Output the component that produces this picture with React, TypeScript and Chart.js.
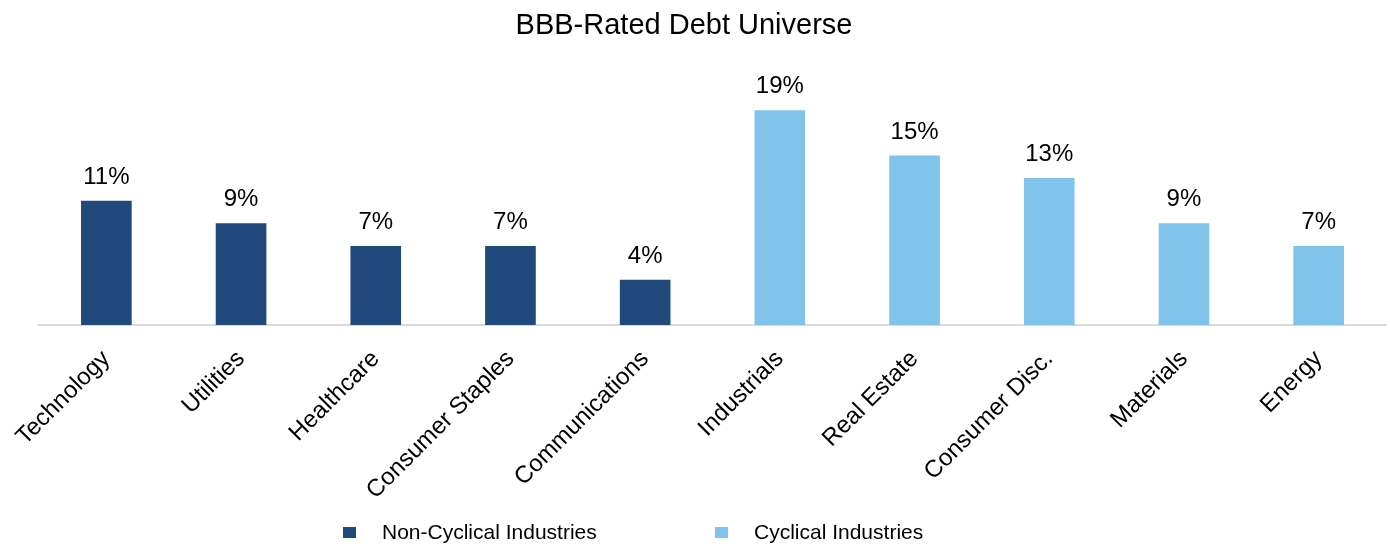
import React, { useEffect, useRef } from "react";
import { Chart, registerables } from "chart.js";

Chart.register(...registerables);

const categories = [
  "Technology",
  "Utilities",
  "Healthcare",
  "Consumer Staples",
  "Communications",
  "Industrials",
  "Real Estate",
  "Consumer Disc.",
  "Materials",
  "Energy",
];

const nonCyclical = [11, 9, 7, 7, 4, null, null, null, null, null];
const cyclical = [null, null, null, null, null, 19, 15, 13, 9, 7];

const seriesNames = ["Non-Cyclical Industries", "Cyclical Industries"];
const seriesColors = ["#204A7B", "#80C4EC"];
const titleText = "BBB-Rated Debt Universe";

const FONT = "'Liberation Sans', Arial, Helvetica, sans-serif";

const valueLabels = {
  id: "valueLabels",
  afterDatasetsDraw(chart: any) {
    const ctx = chart.ctx;
    ctx.save();
    ctx.font = `24px ${FONT}`;
    ctx.fillStyle = "#000000";
    ctx.textAlign = "center";
    ctx.textBaseline = "alphabetic";
    chart.data.datasets.forEach((ds: any, di: number) => {
      const meta = chart.getDatasetMeta(di);
      meta.data.forEach((bar: any, i: number) => {
        const v = ds.data[i];
        if (v === null || v === undefined) return;
        ctx.fillText(`${v}%`, bar.x, bar.y - 17);
      });
    });
    ctx.restore();
  },
};

const titleAndLegend = {
  id: "titleAndLegend",
  afterDraw(chart: any) {
    const ctx = chart.ctx;
    ctx.save();
    ctx.fillStyle = "#000000";
    ctx.font = `29px ${FONT}`;
    ctx.textAlign = "center";
    ctx.textBaseline = "alphabetic";
    ctx.fillText(titleText, 684, 34);

    ctx.font = `21px ${FONT}`;
    ctx.textBaseline = "middle";
    ctx.textAlign = "left";
    const boxXs = [343, 715];
    const y = 532;
    chart.data.datasets.forEach((ds: any, i: number) => {
      ctx.fillStyle = ds.backgroundColor;
      ctx.fillRect(boxXs[i], y - 5, 13, 11);
      ctx.fillStyle = "#000000";
      ctx.fillText(ds.label, boxXs[i] + 39, y + 1.5);
    });
    ctx.restore();
  },
};

export default function App() {
  const ref = useRef<HTMLCanvasElement | null>(null);

  useEffect(() => {
    if (!ref.current) return;
    const chart = new Chart(ref.current, {
      type: "bar",
      data: {
        labels: categories,
        datasets: [
          {
            label: seriesNames[0],
            data: nonCyclical,
            backgroundColor: seriesColors[0],
            grouped: false,
            categoryPercentage: 1,
            barPercentage: 0.376,
          } as any,
          {
            label: seriesNames[1],
            data: cyclical,
            backgroundColor: seriesColors[1],
            grouped: false,
            categoryPercentage: 1,
            barPercentage: 0.376,
          } as any,
        ],
      },
      options: {
        responsive: false,
        animation: false,
        events: [],
        layout: { padding: { left: 39, right: 4, top: 42.5, bottom: 0 } },
        plugins: {
          legend: { display: false },
          tooltip: { enabled: false },
          title: { display: false },
        },
        scales: {
          x: {
            offset: true,
            grid: { display: false, drawTicks: false },
            border: { display: true, color: "#D9D9D9", width: 2 },
            ticks: {
              color: "#000000",
              font: { family: FONT, size: 24 },
              minRotation: 45,
              maxRotation: 45,
              autoSkip: false,
              padding: 20,
            },
            afterFit: (scale: any) => {
              scale.height = 221;
              scale.paddingLeft = 0;
              scale.paddingRight = 0;
            },
          },
          y: {
            display: false,
            min: 0,
            max: 25,
          },
        },
      },
      plugins: [valueLabels, titleAndLegend],
    });
    return () => chart.destroy();
  }, []);

  return (
    <div style={{ position: "absolute", left: 0, top: 0, width: 1390, height: 546, background: "#ffffff" }}>
      <canvas ref={ref} width={1390} height={546} style={{ display: "block" }} />
    </div>
  );
}
